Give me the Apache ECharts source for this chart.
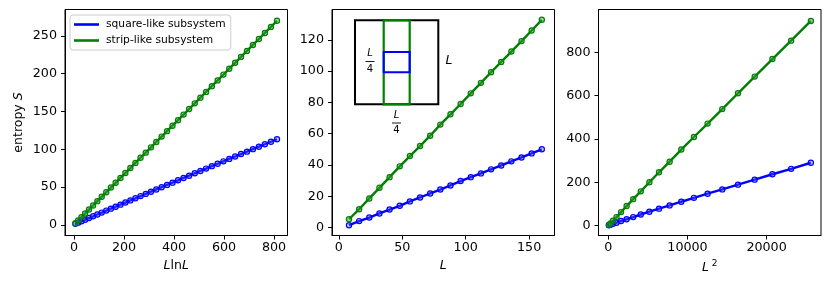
<!DOCTYPE html>
<html>
<head>
<meta charset="utf-8">
<script src="https://cdn.jsdelivr.net/npm/echarts@6/dist/echarts.min.js"></script>
<style>
html,body{margin:0;padding:0;background:#fff;}
#chart{width:831px;height:287px;}
</style>
</head>
<body>
<div id="chart"></div>
<script>
// ---------- data ----------
const seriesNames = ['square-like subsystem', 'strip-like subsystem'];

// Left panel: S vs L ln L  (L = 4 ... 160, step 4)
const leftL = [4,8,12,16,20,24,28,32,36,40,44,48,52,56,60,64,68,72,76,80,
               84,88,92,96,100,104,108,112,116,120,124,128,132,136,140,144,148,152,156,160];
const leftSquare = [1.3,2.9,4.7,6.8,9.0,11.3,13.7,16.2,18.8,21.4,24.0,26.7,29.5,32.3,35.1,38.0,40.9,43.8,46.8,49.8,
                    52.8,55.8,58.9,62.0,65.0,68.2,71.3,74.4,77.6,80.8,84.0,87.2,90.4,93.6,96.8,100.1,103.3,106.6,109.9,113.2];
const leftStrip = [2.1,5.8,10.2,15.0,20.2,25.6,31.3,37.1,43.1,49.3,55.6,62.0,68.5,75.1,81.9,88.7,95.5,102.5,109.6,116.7,
                   123.9,131.1,138.4,145.8,153.2,160.7,168.2,175.8,183.4,191.0,198.7,206.5,214.3,222.1,230.0,237.9,245.8,253.8,261.8,269.9];

// Middle panel: S vs L  (L = 8 ... 160, step 8)
const midL = [8,16,24,32,40,48,56,64,72,80,88,96,104,112,120,128,136,144,152,160];
const midSquare = [1.5,4.1,6.4,9.0,11.5,13.9,16.7,19.2,21.8,24.3,26.9,29.7,32.2,34.6,37.2,39.7,42.3,44.8,47.4,50.0];
const midStrip = [5.3,11.7,18.6,25.4,32.2,39.1,45.7,52.1,58.7,65.8,72.4,79.0,85.8,92.5,99.3,105.9,112.5,119.2,126.0,132.8];

// Right panel: S vs L^2  (L = 8 ... 160, step 8)
const rightL = [8,16,24,32,40,48,56,64,72,80,88,96,104,112,120,128,136,144,152,160];
const rightSquare = [1.5,4,8,13,21,29,39,51,64,78,93,110,128,147,167,189,212,237,262,290];
const rightStrip = [2.5,10,22,39,62,90,122,158,200,246,295,351,409,471,538,611,688,769,854,945];

// tick labels
const leftXTicks = [0,200,400,600,800];
const leftYTicks = [0,50,100,150,200,250];
const midXTicks = [0,50,100,150];
const midYTicks = [0,20,40,60,80,100,120];
const rightXTicks = [0,10000,20000];
const rightYTicks = [0,200,400,600,800];

// ---------- build ----------
const FONT = 'DejaVu Sans';
const BLUE = '#0000ff', GREEN = '#008000';
const leftX = leftL.map(L => L * Math.log(L));
const midX = midL.slice();
const rightX = rightL.map(L => L * L);
const pairs = (xs, ys) => xs.map((x, i) => [x, ys[i]]);

const grids = [
  {left: 65, top: 9.5, width: 222.5, height: 226},
  {left: 332, top: 9.5, width: 222.5, height: 226},
  {left: 598.5, top: 9.5, width: 222.5, height: 226}
].map(g => Object.assign(g, {show: true, borderColor: '#000', borderWidth: 1, backgroundColor: 'transparent'}));

function axis(gridIndex, min, max, ticks, extra) {
  return Object.assign({
    type: 'value', gridIndex, min, max,
    axisLine: {show: true, onZero: false, lineStyle: {color: '#000', width: 1}},
    axisTick: {show: true, inside: false, length: 4, lineStyle: {color: '#000'}, customValues: ticks},
    axisLabel: {show: true, color: '#000', fontFamily: FONT, fontSize: 12.7, customValues: ticks,
                showMinLabel: true, showMaxLabel: true, formatter: v => String(v)},
    splitLine: {show: false}
  }, extra || {});
}
const xLab = {margin: 6};
const yLab = {margin: 8};
function xaxis(g, min, max, ticks, name, rich) {
  const a = axis(g, min, max, ticks, {
    name: name, nameLocation: 'middle', nameGap: 22,
    nameTextStyle: {color: '#000', fontFamily: FONT, fontSize: 12.5, rich: rich}
  });
  Object.assign(a.axisLabel, xLab);
  return a;
}
function yaxis(g, min, max, ticks, extra) {
  const a = axis(g, min, max, ticks, extra);
  Object.assign(a.axisLabel, yLab);
  return a;
}
const italicRich = {
  i: {fontStyle: 'italic', fontFamily: FONT, fontSize: 12.5, color: '#000', lineHeight: 16},
  t: {fontFamily: FONT, fontSize: 12.5, color: '#000', lineHeight: 16},
  s: {fontFamily: FONT, fontSize: 9, color: '#000', lineHeight: 16, verticalAlign: 'top', padding: [0, 0, 0, 3]}
};

const xAxes = [
  xaxis(0, -36, 854, leftXTicks, '{i|L}{t|ln}{i|L}', italicRich),
  xaxis(1, -5.4, 170, midXTicks, '{i|L}', italicRich),
  xaxis(2, -1250, 26880, rightXTicks, '{i|L}{s|2}', italicRich)
];
const yAxes = [
  yaxis(0, -14.1, 284.8, leftYTicks, {
    name: '{t|entropy }{i|S}', nameLocation: 'middle', nameGap: 38, nameRotate: 90,
    nameTextStyle: {color: '#000', fontFamily: FONT, fontSize: 12.5, rich: italicRich}
  }),
  yaxis(1, -5.1, 139.4, midYTicks),
  yaxis(2, -46, 998, rightYTicks)
];

function lineSeries(name, color, fill, g, data) {
  return {
    name, type: 'line', xAxisIndex: g, yAxisIndex: g, data,
    symbol: 'circle', symbolSize: 5.2, showSymbol: true, animation: false,
    lineStyle: {color, width: 2.4},
    itemStyle: {color: fill, borderColor: color, borderWidth: 1.2},
    emphasis: {disabled: true}
  };
}
const series = [
  lineSeries(seriesNames[0], BLUE, 'rgba(90,90,255,0.35)', 0, pairs(leftX, leftSquare)),
  lineSeries(seriesNames[1], GREEN, 'rgba(70,150,70,0.45)', 0, pairs(leftX, leftStrip)),
  lineSeries(seriesNames[0], BLUE, 'rgba(90,90,255,0.35)', 1, pairs(midX, midSquare)),
  lineSeries(seriesNames[1], GREEN, 'rgba(70,150,70,0.45)', 1, pairs(midX, midStrip)),
  lineSeries(seriesNames[0], BLUE, 'rgba(90,90,255,0.35)', 2, pairs(rightX, rightSquare)),
  lineSeries(seriesNames[1], GREEN, 'rgba(70,150,70,0.45)', 2, pairs(rightX, rightStrip))
];

// inset schematic (illustration, not data)
function frac(cx, yTop) {
  return [
    {type: 'text', z: 100, style: {text: 'L', x: cx, y: yTop, font: 'italic 10px "DejaVu Sans"', fill: '#000', align: 'center', verticalAlign: 'middle'}},
    {type: 'line', z: 100, shape: {x1: cx - 4.5, y1: yTop + 8, x2: cx + 4.5, y2: yTop + 8}, style: {stroke: '#000', lineWidth: 0.9}},
    {type: 'text', z: 100, style: {text: '4', x: cx, y: yTop + 15.5, font: '10px "DejaVu Sans"', fill: '#000', align: 'center', verticalAlign: 'middle'}}
  ];
}
const graphic = [
  {type: 'rect', z: 100, shape: {x: 355, y: 20.3, width: 83.3, height: 84}, style: {fill: '#fff', stroke: '#000', lineWidth: 2}},
  {type: 'rect', z: 101, shape: {x: 383.7, y: 20.3, width: 26, height: 84}, style: {fill: 'none', stroke: GREEN, lineWidth: 2.2}},
  {type: 'rect', z: 102, shape: {x: 383.7, y: 52, width: 26, height: 20.3}, style: {fill: 'none', stroke: BLUE, lineWidth: 2}},
  {type: 'text', z: 100, style: {text: 'L', x: 449, y: 61, font: 'italic 12.5px "DejaVu Sans"', fill: '#000', align: 'center', verticalAlign: 'middle'}}
].concat(frac(370, 53.5), frac(396.5, 115));

const option = {
  animation: false,
  backgroundColor: '#fff',
  grid: grids,
  xAxis: xAxes,
  yAxis: yAxes,
  series,
  legend: {
    show: true, left: 70, top: 15, orient: 'vertical',
    icon: 'rect', itemWidth: 25, itemHeight: 2.6, itemGap: 3,
    padding: [3, 5, 3, 4],
    backgroundColor: 'rgba(255,255,255,0.85)', borderColor: '#cccccc', borderWidth: 1, borderRadius: 3,
    selectedMode: false,
    textStyle: {fontFamily: FONT, fontSize: 10.7, color: '#000', lineHeight: 13, padding: [0, 0, 0, 2]},
    data: [
      {name: seriesNames[0], itemStyle: {color: BLUE, borderWidth: 0}},
      {name: seriesNames[1], itemStyle: {color: GREEN, borderWidth: 0}}
    ]
  },
  graphic
};

const chart = echarts.init(document.getElementById('chart'), null, {renderer: 'canvas'});
chart.setOption(option);
</script>
</body>
</html>
